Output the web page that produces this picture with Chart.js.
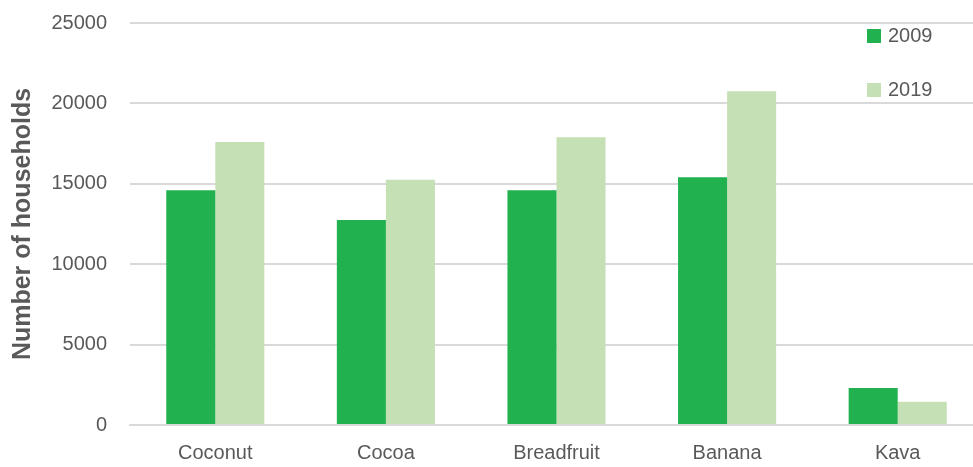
<!DOCTYPE html>
<html>
<head>
<meta charset="utf-8">
<script src="https://cdn.jsdelivr.net/npm/chart.js@4.4.1/dist/chart.umd.min.js"></script>
<style>
html,body{margin:0;padding:0;overflow:hidden;background:#fff;}
#wrap{position:relative;width:983px;height:467px;}
#legend{position:absolute;left:867px;top:24px;font-family:"Liberation Sans",Arial,sans-serif;font-size:20px;color:#595959;}
.item{position:absolute;left:0;white-space:nowrap;display:flex;align-items:center;}
.sw{width:14px;height:14px;display:inline-block;margin-right:7px;}
</style>
</head>
<body>
<div id="wrap">
<canvas id="c" width="983" height="467"></canvas>
<div id="legend"></div>
</div>
<script>
const categories = ["Coconut", "Cocoa", "Breadfruit", "Banana", "Kava"];
const values2009 = [14600, 12750, 14600, 15400, 2300];
const values2019 = [17600, 15250, 17900, 20750, 1450];
const seriesNames = ["2009", "2019"];
const yTicks = [0, 5000, 10000, 15000, 20000, 25000];
const colors = ["#21b14f", "#c5e0b4"];

const legend = document.getElementById('legend');
[[seriesNames[0], colors[0], 0], [seriesNames[1], colors[1], 54]].forEach(([n, c, t]) => {
  const d = document.createElement('div');
  d.className = 'item';
  d.style.top = t + 'px';
  d.innerHTML = '<span class="sw" style="background:' + c + '"></span><span>' + n + '</span>';
  legend.appendChild(d);
});

Chart.defaults.font.family = '"Liberation Sans", Arial, sans-serif';
Chart.defaults.color = '#595959';

new Chart(document.getElementById('c'), {
  type: 'bar',
  data: {
    labels: categories,
    datasets: [
      { label: seriesNames[0], data: values2009, backgroundColor: colors[0], borderWidth: 0 },
      { label: seriesNames[1], data: values2019, backgroundColor: colors[1], borderWidth: 0 }
    ]
  },
  options: {
    responsive: false,
    animation: false,
    devicePixelRatio: 1,
    layout: { autoPadding: false, padding: { top: 23, right: 0, bottom: 0, left: 0 } },
    plugins: { legend: { display: false }, tooltip: { enabled: false } },
    datasets: { bar: { categoryPercentage: 0.575, barPercentage: 1.0 } },
    scales: {
      x: {
        grid: { display: false },
        border: { display: true, color: '#d9d9d9', width: 2 },
        ticks: { font: { size: 20 }, color: '#595959', padding: 8 },
        afterFit: (s) => { s.height = 42; s.paddingLeft = 0; s.paddingRight = 0; }
      },
      y: {
        min: 0,
        max: 25000,
        afterBuildTicks: (s) => { s.ticks = yTicks.map(v => ({ value: v })); },
        grid: { color: '#d9d9d9', lineWidth: 2, drawTicks: false },
        border: { display: false },
        ticks: { font: { size: 20 }, color: '#595959', padding: 23, callback: (v) => String(v) },
        title: { display: true, text: 'Number of households', font: { size: 25, weight: 'bold' }, color: '#595959', padding: { top: 8, bottom: 0 } },
        afterFit: (s) => { s.width = 130; s.paddingTop = 0; s.paddingBottom = 0; }
      }
    }
  }
});
</script>
</body>
</html>
